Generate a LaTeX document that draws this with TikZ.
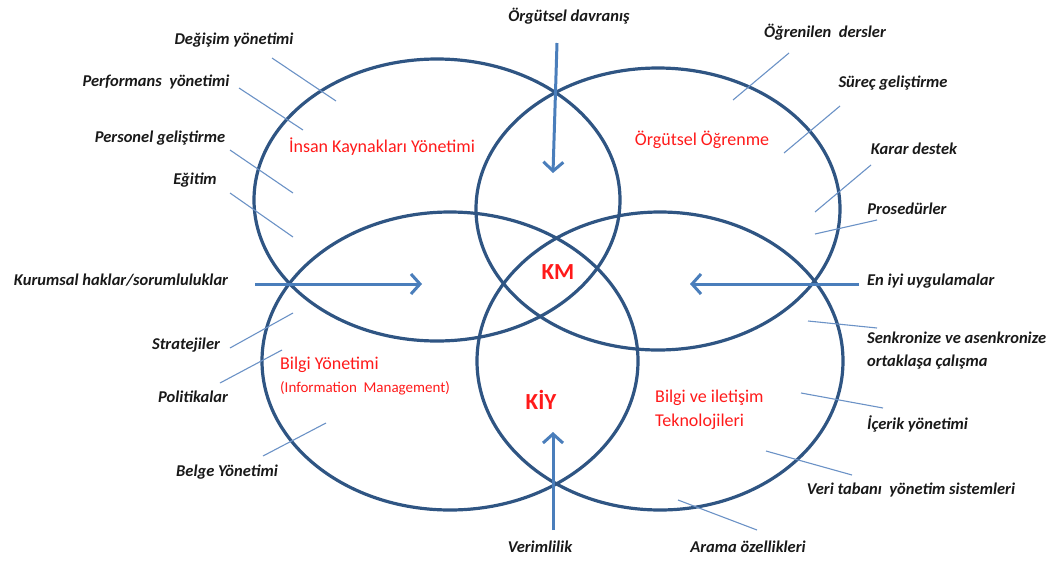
\documentclass[tikz,border=0pt]{standalone}
\usepackage{fontspec}
\setmainfont{Carlito}
\usetikzlibrary{arrows.meta}
\definecolor{ellc}{HTML}{2F5583}
\definecolor{arrc}{HTML}{4A7EBB}
\definecolor{thinc}{HTML}{6B92C6}
\definecolor{redc}{HTML}{FF1A1A}
\begin{document}
\begin{tikzpicture}[x=1pt,y=-1pt,
  ring/.style={draw=ellc, line width=3.2pt},
  lbl/.style={font=\fontsize{16.5}{18}\selectfont\bfseries\itshape, inner sep=0pt, text=black!90},
  redlbl/.style={text=redc, font=\fontsize{18}{20}\selectfont, inner sep=0pt},
  smallred/.style={text=redc, font=\fontsize{15}{17}\selectfont, inner sep=0pt},
  bigred/.style={text=redc, font=\fontsize{23}{25}\selectfont\bfseries, inner sep=0pt},
  pointer/.style={draw=thinc, line width=1.1pt},
  bigarrow/.style={draw=arrc, line width=3pt, -{Straight Barb[length=9pt,width=20pt,line width=3pt]}}
]
\useasboundingbox (0,0) rectangle (1063,560);

% ellipses
\draw[ring] (437,200) ellipse [x radius=183pt, y radius=141pt];
\draw[ring] (658,209) ellipse [x radius=182pt, y radius=141pt];
\draw[ring] (450,361) ellipse [x radius=188pt, y radius=149pt];
\draw[ring] (660,361) ellipse [x radius=183pt, y radius=149pt];

% red titles
\node[redlbl] (iky) at (382,147) {İnsan Kaynakları Yönetimi};
\node[redlbl] (oo) at (702,140) {Örgütsel Öğrenme};
\node[redlbl, anchor=west] (by) at (280,365) {Bilgi Yönetimi};
\node[smallred, anchor=west] (im) at (280,388) {(Information\ \ Management)};
\node[redlbl, anchor=west] (bit1) at (655,398) {Bilgi ve iletişim};
\node[redlbl, anchor=west] (bit2) at (655,422) {Teknolojileri};
\node[bigred] (km) at (558,272) {KM};
\node[bigred] (kiy) at (541,400) {KİY};

% black labels
\node[lbl] (l1) at (234,40) {Değişim yönetimi};
\node[lbl] (l2) at (156,82) {Performans\ \ yönetimi};
\node[lbl] (l3) at (160,138) {Personel geliştirme};
\node[lbl] (l4) at (195,180) {Eğitim};
\node[lbl] (l5) at (121,280) {Kurumsal haklar/sorumluluklar};
\node[lbl] (l6) at (186,345) {Stratejiler};
\node[lbl] (l7) at (193,397) {Politikalar};
\node[lbl] (l8) at (227,472) {Belge Yönetimi};
\node[lbl] (r0) at (569,16) {Örgütsel davranış};
\node[lbl] (r1) at (825,32) {Öğrenilen\ \ dersler};
\node[lbl] (r2) at (893,83) {Süreç geliştirme};
\node[lbl] (r3) at (914,149) {Karar destek};
\node[lbl] (r4) at (907,209) {Prosedürler};
\node[lbl, anchor=west] (r5) at (867,281) {En iyi uygulamalar};
\node[lbl, anchor=west] (r6) at (867,338) {Senkronize ve asenkronize};
\node[lbl, anchor=west] (r6b) at (867,362) {ortaklaşa çalışma};
\node[lbl, anchor=west] (r7) at (867,424) {İçerik yönetimi};
\node[lbl] (r8) at (911,490) {Veri tabanı\ \ yönetim sistemleri};
\node[lbl] (r9) at (748,547) {Arama özellikleri};
\node[lbl] (b0) at (540,547) {Verimlilik};

% pointer lines
\coordinate (p1a) at (272,58);  \coordinate (p1b) at (336,101);
\coordinate (p2a) at (239,88);  \coordinate (p2b) at (303,130);
\coordinate (p3a) at (230,150); \coordinate (p3b) at (293,193);
\coordinate (p4a) at (230,193); \coordinate (p4b) at (293,237);
\coordinate (p6a) at (230,348); \coordinate (p6b) at (293,313);
\coordinate (p7a) at (220,383); \coordinate (p7b) at (282,350);
\coordinate (p8a) at (263,456); \coordinate (p8b) at (326,423);
\coordinate (q1a) at (789,53);  \coordinate (q1b) at (733,100);
\coordinate (q2a) at (840,106); \coordinate (q2b) at (784,153);
\coordinate (q3a) at (871,165); \coordinate (q3b) at (815,212);
\coordinate (q4a) at (877,220); \coordinate (q4b) at (815,234);
\coordinate (q6a) at (877,328); \coordinate (q6b) at (808,321);
\coordinate (q7a) at (883,408); \coordinate (q7b) at (801,393);
\coordinate (q8a) at (852,475); \coordinate (q8b) at (766,451);
\coordinate (q9a) at (757,530); \coordinate (q9b) at (678,500);
\foreach \a in {p1,p2,p3,p4,p6,p7,p8,q1,q2,q3,q4,q6,q7,q8,q9}
  \draw[pointer] (\a a) -- (\a b);

% big arrows
\coordinate (a1s) at (557,43);  \coordinate (a1e) at (553,173);
\coordinate (a2s) at (255,284); \coordinate (a2e) at (422,284);
\coordinate (a3s) at (859,284); \coordinate (a3e) at (690,284);
\coordinate (a4s) at (553,530); \coordinate (a4e) at (553,432);
\draw[bigarrow] (a1s) -- (a1e);
\draw[bigarrow] (a2s) -- (a2e);
\draw[bigarrow] (a3s) -- (a3e);
\draw[bigarrow] (a4s) -- (a4e);
\end{tikzpicture}
\end{document}
